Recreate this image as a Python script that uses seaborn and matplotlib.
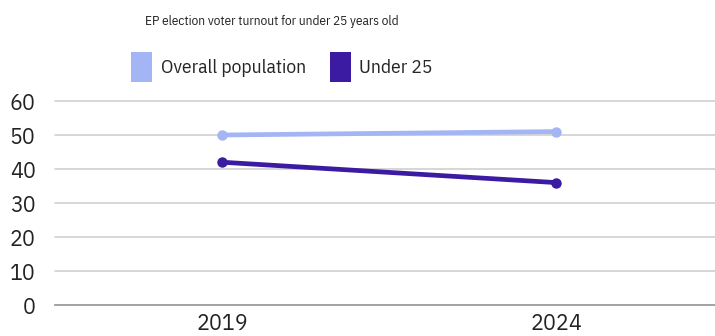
import matplotlib
matplotlib.use("Agg")
import matplotlib.pyplot as plt
from matplotlib.patches import Patch
import seaborn as sns
import pandas as pd

years = ["2019", "2024"]
overall = [50, 51]
under25 = [42, 36]
series_names = ["Overall population", "Under 25"]
colors = ["#a3b5f4", "#3a1ba1"]

df = pd.DataFrame({
    "year": years * 2,
    "turnout": overall + under25,
    "group": [series_names[0]] * len(years) + [series_names[1]] * len(years),
})

sns.set_theme(style="white")
plt.rcParams["font.family"] = ["IBM Plex Sans", "DejaVu Sans"]
condensed = ["IBM Plex Sans Condensed", "DejaVu Sans"]

fig = plt.figure(figsize=(7.15, 3.36), dpi=100)
ax = fig.add_axes([55 / 715, 31 / 336, 668 / 715, 204 / 336])

sns.lineplot(data=df, x="year", y="turnout", hue="group", hue_order=series_names,
             palette=colors, marker="o", markersize=7.5, markeredgewidth=0,
             linewidth=3.4, ax=ax, legend=False, sort=False)

ax.set_xlim(-0.5, 1.5)
ax.set_ylim(0, 60)
ax.set_yticks(range(0, 61, 10))
ax.set_xlabel("")
ax.set_ylabel("")
ax.tick_params(axis="y", labelsize=15.5, length=0, pad=14, colors="#222222")
ax.tick_params(axis="x", labelsize=15.5, length=0, pad=6, colors="#222222")
ax.grid(axis="y", color="#d0d0d0", linewidth=1.2)
ax.set_axisbelow(True)
for g in ax.get_ygridlines():
    g.set_clip_on(False)
for s in ["left", "right", "top"]:
    ax.spines[s].set_visible(False)
ax.spines["bottom"].set_color("#9a9a9a")
ax.spines["bottom"].set_linewidth(1.2)

fig.text(272 / 715, 1 - 22 / 336, "EP election voter turnout for under 25 years old",
         ha="center", va="center", fontsize=9.5, color="#222222", family=condensed)

handles = [Patch(facecolor=c, edgecolor="none") for c in colors]
fig.legend(handles, series_names, loc="center", bbox_to_anchor=(282 / 715, 1 - 67 / 336),
           ncol=2, frameon=False, prop={"family": condensed, "size": 14},
           handlelength=1.08, handleheight=2.0, handletextpad=0.45, columnspacing=1.2)

fig.savefig("out.png", dpi=100)
